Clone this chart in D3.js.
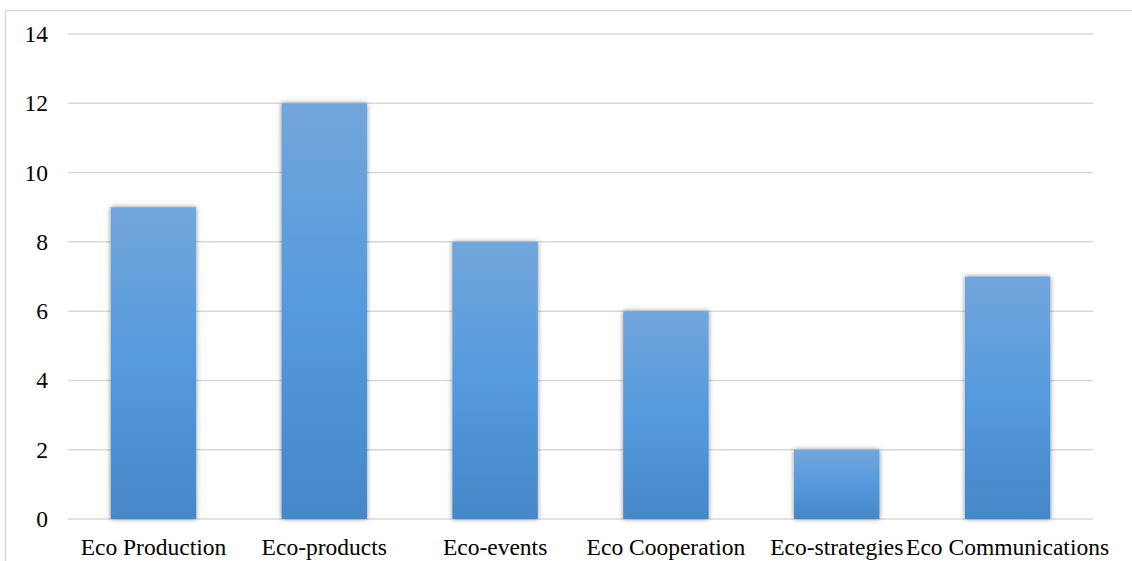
<!DOCTYPE html>
<html>
<head>
<meta charset="utf-8">
<script src="https://cdn.jsdelivr.net/npm/d3@7"></script>
<style>
  html, body { margin: 0; padding: 0; background: #fff; }
  svg { display: block; }
  svg text { font-family: "Liberation Serif", "Times New Roman", Times, serif; }
</style>
</head>
<body>
<svg id="chart" width="1132" height="561"></svg>
<script>
// Data
const categories = ["Eco Production", "Eco-products", "Eco-events", "Eco Cooperation", "Eco-strategies", "Eco Communications"];
const values = [9, 12, 8, 6, 2, 7];
const yTicks = [0, 2, 4, 6, 8, 10, 12, 14];

const svg = d3.select("#chart");
const W = 1132, H = 561;
const plot = { left: 68, right: 1093, top: 34, bottom: 519 };

// Outer chart frame
svg.append("rect")
  .attr("x", 5.5).attr("y", 10.5)
  .attr("width", W + 20).attr("height", H + 20)
  .attr("fill", "#fff")
  .attr("stroke", "#d9d9d9").attr("stroke-width", 1.5);

const defs = svg.append("defs");
const grad = defs.append("linearGradient")
  .attr("id", "barGrad").attr("x1", 0).attr("y1", 0).attr("x2", 0).attr("y2", 1);
grad.append("stop").attr("offset", "0%").attr("stop-color", "#72a6db");
grad.append("stop").attr("offset", "50%").attr("stop-color", "#559ade");
grad.append("stop").attr("offset", "100%").attr("stop-color", "#4587c8");

const shadow = defs.append("filter").attr("id", "barShadow")
  .attr("x", "-20%").attr("y", "-10%").attr("width", "140%").attr("height", "120%");
shadow.append("feDropShadow")
  .attr("dx", 0).attr("dy", 0).attr("stdDeviation", 2.5)
  .attr("flood-color", "#000").attr("flood-opacity", 0.45);

const x = d3.scaleBand()
  .domain(categories)
  .range([plot.left, plot.right])
  .paddingInner(0.5).paddingOuter(0.25);

const y = d3.scaleLinear().domain([0, 14]).range([plot.bottom, plot.top]);

// Gridlines
svg.append("g")
  .selectAll("line")
  .data(yTicks)
  .join("line")
  .attr("x1", plot.left).attr("x2", plot.right)
  .attr("y1", d => y(d)).attr("y2", d => y(d))
  .attr("stroke", "#d9d9d9").attr("stroke-width", 1.5);

// Y tick labels
svg.append("g")
  .selectAll("text")
  .data(yTicks)
  .join("text")
  .attr("x", 48).attr("y", d => y(d))
  .attr("dy", "0.34em")
  .attr("text-anchor", "end")
  .style("font-size", "23.5px")
  .attr("fill", "#000")
  .text(d => d);

// Bars
svg.append("g")
  .selectAll("rect")
  .data(values)
  .join("rect")
  .attr("x", (d, i) => x(categories[i]))
  .attr("width", x.bandwidth())
  .attr("y", d => y(d))
  .attr("height", d => y(0) - y(d))
  .attr("fill", "url(#barGrad)")
  .attr("filter", "url(#barShadow)");

// Category labels
svg.append("g")
  .selectAll("text")
  .data(categories)
  .join("text")
  .attr("x", d => x(d) + x.bandwidth() / 2)
  .attr("y", 555)
  .attr("text-anchor", "middle")
  .style("font-size", "23.5px")
  .attr("fill", "#000")
  .text(d => d);
</script>
</body>
</html>
